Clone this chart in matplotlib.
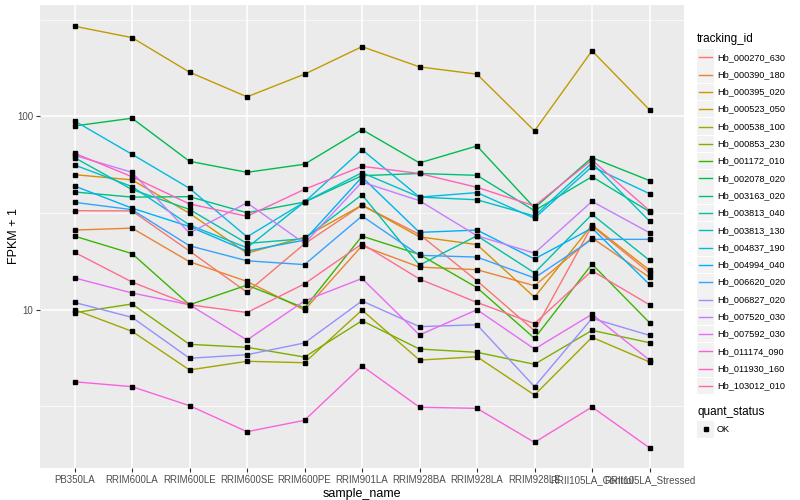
import numpy as np
import matplotlib
matplotlib.use('Agg')
from matplotlib import pyplot as plt
from matplotlib.ticker import FixedLocator, NullFormatter
from matplotlib.patches import Rectangle

plt.rcParams['font.family'] = ['Liberation Sans', 'DejaVu Sans']

# samples on the x axis
samples = ['PB350LA', 'RRIM600LA', 'RRIM600LE', 'RRIM600SE', 'RRIM600PE', 'RRIM901LA',
           'RRIM928BA', 'RRIM928LA', 'RRIM928LE', 'RRII105LA_Control', 'RRII105LA_Stressed']

tracking_ids = ['Hb_000270_630', 'Hb_000390_180', 'Hb_000395_020', 'Hb_000523_050',
                'Hb_000538_100', 'Hb_000853_230', 'Hb_001172_010', 'Hb_002078_020',
                'Hb_003163_020', 'Hb_003813_040', 'Hb_003813_130', 'Hb_004837_190',
                'Hb_004994_040', 'Hb_006620_020', 'Hb_006827_020', 'Hb_007520_030',
                'Hb_007592_030', 'Hb_011174_090', 'Hb_011930_160', 'Hb_103012_010']

# FPKM + 1, one list per tracking id
hb_000270_630 = [32.5, 32.4, 20.1, 12.3, 21.9, 34.7, 24.5, 14.1, 7.79, 27.1, 15.5]
hb_000390_180 = [25.8, 26.4, 17.7, 14.0, 9.96, 21.4, 16.6, 16.1, 13.3, 23.5, 14.7]
hb_000395_020 = [49.9, 46.9, 31.5, 19.6, 23.7, 34.7, 23.8, 21.7, 11.6, 27.4, 16.0]
hb_000523_050 = [292, 255, 169, 126, 165, 229, 180, 165, 84, 218, 108]
hb_000538_100 = [10.0, 7.73, 4.88, 5.41, 5.32, 9.96, 5.49, 5.71, 3.62, 7.20, 5.37]
hb_000853_230 = [9.65, 10.7, 6.62, 6.39, 5.69, 8.77, 6.26, 6.02, 5.22, 7.82, 6.75]
hb_001172_010 = [24.0, 19.5, 10.6, 13.4, 10.2, 24.0, 19.3, 13.0, 7.11, 17.2, 8.57]
hb_002078_020 = [89.1, 97.7, 58.5, 51.3, 56.5, 85.3, 57.4, 70.2, 33.6, 61.1, 46.5]
hb_003163_020 = [40.6, 38.2, 38.4, 31.7, 36.0, 49.3, 50.6, 49.5, 32.5, 48.7, 32.1]
hb_003813_040 = [61.1, 41.8, 33.0, 22.0, 23.3, 39.3, 17.0, 24.1, 15.5, 31.1, 18.0]
hb_003813_130 = [56.0, 43.3, 27.4, 20.9, 36.0, 51.1, 38.2, 37.0, 30.5, 57.4, 28.7]
hb_004837_190 = [94.6, 63.6, 42.4, 23.8, 36.0, 67.2, 38.2, 40.3, 29.7, 54.9, 39.8]
hb_004994_040 = [43.6, 33.5, 26.9, 20.1, 22.9, 48.5, 25.1, 25.8, 18.3, 26.4, 13.5]
hb_006620_020 = [35.9, 32.9, 21.4, 17.9, 17.1, 30.5, 19.1, 18.7, 14.6, 23.1, 23.1]
hb_006827_020 = [10.9, 9.13, 5.61, 5.85, 6.73, 11.1, 8.17, 8.36, 4.00, 9.02, 7.37]
hb_007520_030 = [62.8, 51.3, 24.9, 35.7, 22.0, 45.7, 36.6, 24.1, 19.6, 36.3, 25.0]
hb_007592_030 = [14.6, 12.2, 10.6, 6.97, 11.1, 14.5, 7.40, 10.0, 6.26, 9.47, 5.49]
hb_011174_090 = [4.24, 4.00, 3.19, 2.34, 2.68, 5.12, 3.13, 3.09, 2.06, 3.14, 1.93]
hb_011930_160 = [64.4, 48.7, 35.2, 30.4, 41.9, 55.1, 50.6, 42.9, 34.4, 59.4, 32.5]
hb_103012_010 = [19.8, 13.9, 10.6, 9.67, 13.6, 21.9, 14.4, 10.9, 8.47, 15.9, 10.6]

series = [hb_000270_630, hb_000390_180, hb_000395_020, hb_000523_050, hb_000538_100,
          hb_000853_230, hb_001172_010, hb_002078_020, hb_003163_020, hb_003813_040,
          hb_003813_130, hb_004837_190, hb_004994_040, hb_006620_020, hb_006827_020,
          hb_007520_030, hb_007592_030, hb_011174_090, hb_011930_160, hb_103012_010]

# ggplot default hue palette for 20 levels
colours = ['#F8766D', '#EA8331', '#D89000', '#C09B00', '#A3A500', '#7CAE00', '#39B600',
           '#00BB4E', '#00BF7D', '#00C1A3', '#00BFC4', '#00BAE0', '#00B0F6', '#35A2FF',
           '#9590FF', '#C77CFF', '#E76BF3', '#FA62DB', '#FF62BC', '#FF6C91']

fig = plt.figure(figsize=(8, 5), dpi=100)
ax = fig.add_axes([40/800, 1-468/500, 644/800, 463/500])
ax.set_facecolor('#EBEBEB')

x = np.arange(len(samples))
for vals, col in zip(series, colours):
    ax.plot(x, vals, color=col, lw=1.0, zorder=3)
for vals in series:
    ax.plot(x, vals, 's', color='black', ms=2.4, zorder=4, lw=0)

ax.set_yscale('log')
ax.set_ylim(1.519, 376)
ax.set_xlim(-0.6, 10.6)
ax.yaxis.set_major_locator(FixedLocator([10, 100]))
ax.yaxis.set_minor_locator(FixedLocator([10**0.5, 10**1.5, 10**2.5]))
ax.yaxis.set_minor_formatter(NullFormatter())
ax.set_yticklabels(['10', '100'])
ax.set_xticks(x)
ax.set_xticklabels(samples)

ax.grid(True, which='major', color='white', lw=1.1, zorder=1)
ax.grid(True, which='minor', axis='y', color='white', lw=0.5, zorder=1)
ax.set_axisbelow(True)
for s in ax.spines.values():
    s.set_visible(False)
ax.tick_params(which='major', length=3, color='#333333', labelcolor='#4D4D4D',
               labelsize=7, pad=2)
ax.tick_params(which='minor', length=0)

ax.set_xlabel('sample_name', fontsize=9, labelpad=2)
ax.set_ylabel('FPKM + 1', fontsize=9)
ax.yaxis.set_label_coords((20 - 40) / 644, 0.5)

# legends drawn by hand in pixel coordinates
lg = fig.add_axes([0, 0, 1, 1], zorder=5)
lg.set_xlim(0, 800)
lg.set_ylim(500, 0)
lg.axis('off')
lg.patch.set_alpha(0)

lg.text(697, 39, 'tracking_id', fontsize=8.5, va='center', ha='left')
for i, (tid, col) in enumerate(zip(tracking_ids, colours)):
    yc = 57.3 + 17.3 * i
    lg.add_patch(Rectangle((697, yc - 8.3), 17, 16.6, facecolor='#F2F2F2', edgecolor='none'))
    lg.plot([699, 712], [yc, yc], color=col, lw=1.0)
    lg.text(717, yc, tid, fontsize=6.6, va='center', ha='left')

lg.text(697, 412, 'quant_status', fontsize=8.5, va='center', ha='left')
lg.add_patch(Rectangle((697, 421), 17, 16.6, facecolor='#F2F2F2', edgecolor='none'))
lg.plot([705.5], [429.3], 's', color='black', ms=2.4)
lg.text(717, 429.3, 'OK', fontsize=6.6, va='center', ha='left')

fig.savefig('out.png', dpi=100)
